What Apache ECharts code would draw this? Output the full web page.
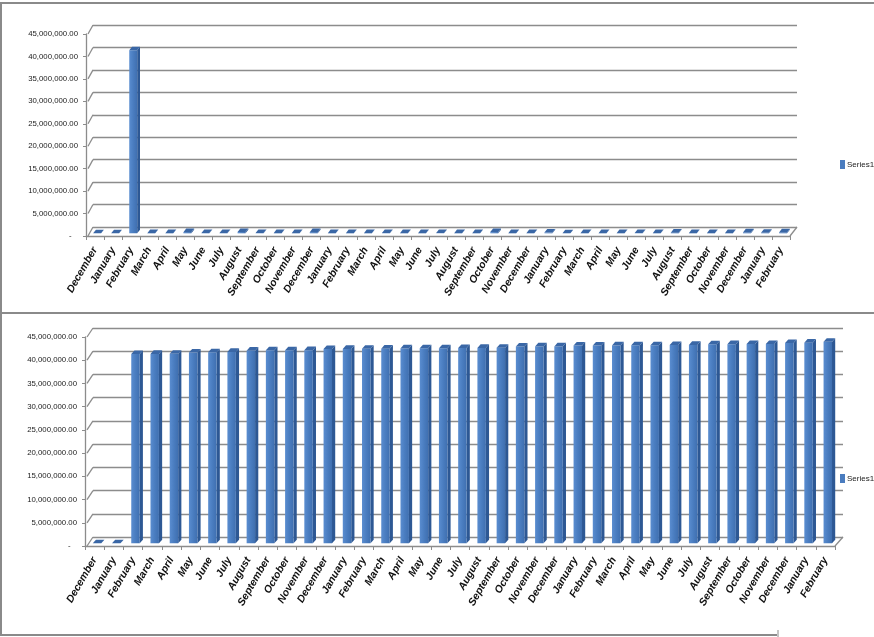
<!DOCTYPE html>
<html>
<head>
<meta charset="utf-8">
<script src="https://cdn.jsdelivr.net/npm/echarts@6/dist/echarts.min.js"></script>
<style>
  html, body { margin: 0; padding: 0; background: #ffffff; }
  #chart { width: 874px; height: 637px; }
</style>
</head>
<body>
<div id="chart"></div>
<script>
// Month labels: December, then three full years, then January and February
const months = [
  'December',
  'January', 'February', 'March', 'April', 'May', 'June', 'July', 'August', 'September', 'October', 'November', 'December',
  'January', 'February', 'March', 'April', 'May', 'June', 'July', 'August', 'September', 'October', 'November', 'December',
  'January', 'February', 'March', 'April', 'May', 'June', 'July', 'August', 'September', 'October', 'November', 'December',
  'January', 'February'
];

// Upper panel: monthly amounts
const monthlyValues = [
  0, 0, 40760000, 20000, 20000, 260000, 70000, 70000, 280000, 60000, 20000, 20000, 260000,
  20000, 20000, 20000, 60000, 20000, 20000, 50000, 20000, 20000, 270000, 20000, 20000,
  170000, 10000, 20000, 20000, 20000, 60000, 20000, 130000, 20000, 20000, 20000, 190000,
  100000, 200000
];

// Lower panel: running totals
const totalValues = [
  0, 0, 40760000, 40780000, 40800000, 41060000, 41130000, 41200000, 41480000, 41540000, 41560000, 41580000, 41840000,
  41860000, 41880000, 41900000, 41960000, 41980000, 42000000, 42050000, 42070000, 42090000, 42360000, 42380000, 42400000,
  42570000, 42580000, 42600000, 42620000, 42640000, 42700000, 42720000, 42850000, 42870000, 42890000, 42910000, 43100000,
  43200000, 43400000
];

// Value axis ticks
const yTicks = [0, 5000000, 10000000, 15000000, 20000000, 25000000, 30000000, 35000000, 40000000, 45000000];
const yMax = 45000000;
const yStep = 5000000;

const BLUE = '#4a7cbf';
const GRID_GRAY = '#8c8c8c';
const SANS = "'Liberation Sans', Arial, sans-serif";

// Two stacked panels; each has a front plane (labels, floor edge, bars) and a
// back wall shifted up-right by the 3D depth (gridlines).
const panels = [
  { front: { left: 86, top: 34, width: 704, height: 202 }, depth: [7, -9], data: monthlyValues, legendTop: 155 },
  { front: { left: 85, top: 337, width: 750, height: 209 }, depth: [8, -9], data: totalValues, legendTop: 469 }
];

function fmt(v) {
  if (v === 0) return '-   ';
  return v.toLocaleString('en-US', { minimumFractionDigits: 2, maximumFractionDigits: 2 });
}

// 3D column: front face, right side face and top face
function makeBarRenderer(dx, dy) {
  return function (params, api) {
    const idx = api.value(0);
    const val = api.value(1);
    const top = api.coord([idx, val]);
    const base = api.coord([idx, 0]);
    const band = api.size([1, 0])[0];
    const w = band * 0.44;
    const f1 = 0.3, f2 = 0.7;
    const fx = dx * f1, fy = dy * f1, bx = dx * f2, by = dy * f2;
    const xl = top[0] - w / 2, xr = top[0] + w / 2;
    const yt = top[1], yb = base[1];
    return {
      type: 'group',
      children: [
        {
          type: 'polygon',
          shape: { points: [[xr + fx, yt + fy], [xr + bx, yt + by], [xr + bx, yb + by], [xr + fx, yb + fy]] },
          style: { fill: '#2d5894' }
        },
        {
          type: 'rect',
          shape: { x: xl + fx, y: yt + fy, width: w, height: yb - yt },
          style: {
            fill: new echarts.graphic.LinearGradient(0, 0, 1, 0, [
              { offset: 0, color: '#5a8dd0' },
              { offset: 0.5, color: '#4a7dc0' },
              { offset: 1, color: '#3f6fb0' }
            ])
          }
        },
        {
          type: 'polygon',
          shape: { points: [[xl + fx, yt + fy], [xr + fx, yt + fy], [xr + bx, yt + by], [xl + bx, yt + by]] },
          style: { fill: '#3a67a6' }
        }
      ]
    };
  };
}

// Left wall edges at every tick and the right edge of the floor
function makeWallRenderer(dx, dy) {
  return function (params, api) {
    const v = api.value(1);
    const y = api.coord([0, v])[1];
    const cs = params.coordSys;
    const children = [{
      type: 'line',
      shape: { x1: cs.x + 2, y1: y, x2: cs.x + dx, y2: y + dy },
      style: { stroke: GRID_GRAY, lineWidth: 1.3 }
    }];
    if (v === 0) {
      children.push({
        type: 'line',
        shape: { x1: cs.x + cs.width, y1: y, x2: cs.x + cs.width + dx, y2: y + dy },
        style: { stroke: GRID_GRAY, lineWidth: 1.3 }
      });
    }
    return { type: 'group', children: children };
  };
}

const grid = [], xAxis = [], yAxis = [], series = [], legend = [];

panels.forEach(function (p, i) {
  const f = p.front;
  const frontIdx = grid.length;
  grid.push({ left: f.left, top: f.top, width: f.width, height: f.height });
  const backIdx = grid.length;
  grid.push({ left: f.left + p.depth[0], top: f.top + p.depth[1], width: f.width, height: f.height });

  // front plane axes
  xAxis.push({
    type: 'category', gridIndex: frontIdx, data: months,
    axisLine: { show: true, lineStyle: { color: GRID_GRAY, width: 1.3 } },
    axisTick: { show: true, length: 4, lineStyle: { color: GRID_GRAY } },
    axisLabel: {
      interval: 0, rotate: 60, margin: 12,
      fontSize: 10.5, fontStyle: 'italic', fontWeight: 'bold', fontFamily: SANS, color: '#111'
    },
    splitLine: { show: false }
  });
  yAxis.push({
    type: 'value', gridIndex: frontIdx, min: 0, max: yMax, interval: yStep,
    axisLine: { show: true, lineStyle: { color: GRID_GRAY, width: 1.3 } },
    axisTick: { show: true, length: 3, lineStyle: { color: GRID_GRAY } },
    axisLabel: { margin: 8, fontSize: 7.8, fontFamily: SANS, color: '#222', formatter: fmt },
    splitLine: { show: false }
  });

  // back wall axes: gridlines only
  xAxis.push({ type: 'category', gridIndex: backIdx, data: months, show: false });
  yAxis.push({
    type: 'value', gridIndex: backIdx, min: 0, max: yMax, interval: yStep,
    axisLine: { show: false }, axisTick: { show: false }, axisLabel: { show: false },
    splitLine: { show: true, lineStyle: { color: GRID_GRAY, width: 1.3 } }
  });

  series.push({
    name: 'Series1', type: 'custom', xAxisIndex: frontIdx, yAxisIndex: frontIdx,
    silent: true, z: 1,
    renderItem: makeWallRenderer(p.depth[0], p.depth[1]),
    data: yTicks.map(function (t) { return [0, t]; })
  });
  series.push({
    name: 'Series1', type: 'custom', xAxisIndex: frontIdx, yAxisIndex: frontIdx,
    itemStyle: { color: BLUE }, z: 3,
    renderItem: makeBarRenderer(p.depth[0], p.depth[1]),
    data: p.data.map(function (v, k) { return [k, v]; })
  });

  legend.push({
    data: [{ name: 'Series1', itemStyle: { color: BLUE } }],
    left: 835, top: p.legendTop, orient: 'vertical',
    itemWidth: 5, itemHeight: 9, icon: 'rect',
    textStyle: { fontSize: 8, fontFamily: SANS, color: '#222', padding: [0, 0, 0, -3] }
  });
});

const chart = echarts.init(document.getElementById('chart'), null, { renderer: 'canvas' });
chart.setOption({
  animation: false,
  backgroundColor: '#ffffff',
  grid: grid,
  xAxis: xAxis,
  yAxis: yAxis,
  legend: legend,
  series: series,
  graphic: [
    // panel frames
    { type: 'line', silent: true, shape: { x1: 0, y1: 3, x2: 874, y2: 3 }, style: { stroke: '#8a8a8a', lineWidth: 2 } },
    { type: 'line', silent: true, shape: { x1: 1, y1: 3, x2: 1, y2: 635 }, style: { stroke: '#8a8a8a', lineWidth: 2 } },
    { type: 'line', silent: true, shape: { x1: 0, y1: 313, x2: 874, y2: 313 }, style: { stroke: '#8a8a8a', lineWidth: 2 } },
    { type: 'line', silent: true, shape: { x1: 0, y1: 635, x2: 777, y2: 635 }, style: { stroke: '#8a8a8a', lineWidth: 2 } },
    { type: 'line', silent: true, shape: { x1: 778, y1: 630, x2: 778, y2: 637 }, style: { stroke: '#8a8a8a', lineWidth: 1 } }
  ]
});
</script>
</body>
</html>
